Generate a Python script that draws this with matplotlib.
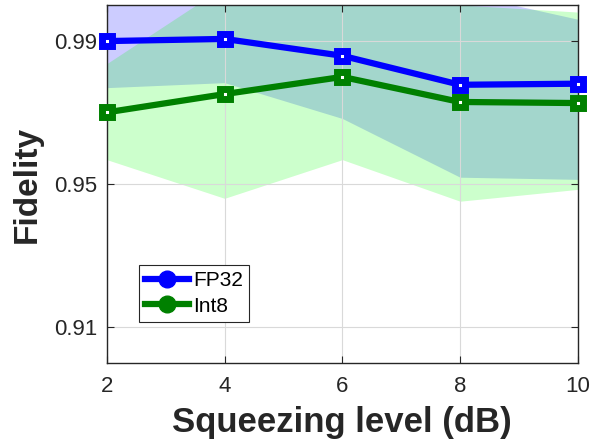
import numpy as np
import matplotlib.pyplot as plt
from matplotlib.lines import Line2D

plt.rcParams['font.family'] = ['Liberation Sans', 'DejaVu Sans']

# datos
squeezing = [2, 4, 6, 8, 10]
fid_fp32 = [0.9899, 0.9905, 0.9858, 0.9777, 0.9780]
fid_int8 = [0.9700, 0.9751, 0.9799, 0.9729, 0.9726]

fp32_upper = [1.012, 1.010, 1.008, 1.0033, 0.9960]
fp32_lower = [0.9769, 0.9783, 0.9683, 0.9519, 0.9513]
int8_upper = [0.9836, 1.0052, 1.0040, 1.0000, 0.9980]
int8_lower = [0.9568, 0.9460, 0.9568, 0.9452, 0.9485]

azul = (0, 0, 1)
verde = (0, 0.5, 0)

fig = plt.figure(figsize=(6, 4.45), dpi=100)
ax = fig.add_axes([0.178, 0.184, 0.785, 0.805])

ax.fill_between(squeezing, fp32_lower, fp32_upper, color=(0, 0, 1), alpha=0.2,
                linewidth=0)
ax.fill_between(squeezing, int8_lower, int8_upper, color=(0, 1, 0), alpha=0.2,
                linewidth=0)

ax.plot(squeezing, fid_fp32, color=azul, lw=4.5, marker='s', ms=7,
        mfc='white', mec=azul, mew=5, clip_on=False, zorder=3)
ax.plot(squeezing, fid_int8, color=verde, lw=4.5, marker='s', ms=7,
        mfc='white', mec=verde, mew=5, clip_on=False, zorder=3)

ax.set_xlim(2, 10)
ax.set_ylim(0.90, 1.0)
ax.set_xticks([2, 4, 6, 8, 10])
ax.set_yticks([0.91, 0.95, 0.99])
ax.set_yticklabels(['0.91', '0.95', '0.99'])
ax.tick_params(direction='in', labelsize=16, length=5, colors='#262626',
               top=True, right=True)
ax.tick_params(axis='x', pad=9)
ax.tick_params(axis='y', pad=7)
ax.grid(True, color='#d9d9d9', lw=0.8)
for s in ax.spines.values():
    s.set_color('#262626')
    s.set_linewidth(1.0)

ax.set_xlabel('Squeezing level (dB)', fontsize=25, fontweight='bold',
              color='#262626', labelpad=7)
ax.set_ylabel('Fidelity', fontsize=24, fontweight='bold', color='#262626',
              labelpad=8)

handles = [
    Line2D([], [], color=azul, lw=4.5, marker='o', ms=12, mfc=azul, mec=azul),
    Line2D([], [], color=verde, lw=4.5, marker='o', ms=12, mfc=verde, mec=verde),
]
leg = ax.legend(handles, ['FP32', 'Int8'], loc='lower left',
                bbox_to_anchor=(0.068, 0.115), borderaxespad=0, fontsize=15,
                fancybox=False, edgecolor='#262626', framealpha=1,
                handlelength=2.1, borderpad=0.3, labelspacing=0.3,
                handletextpad=0.2)
leg.get_frame().set_linewidth(0.8)

fig.savefig('out.png', dpi=100)
